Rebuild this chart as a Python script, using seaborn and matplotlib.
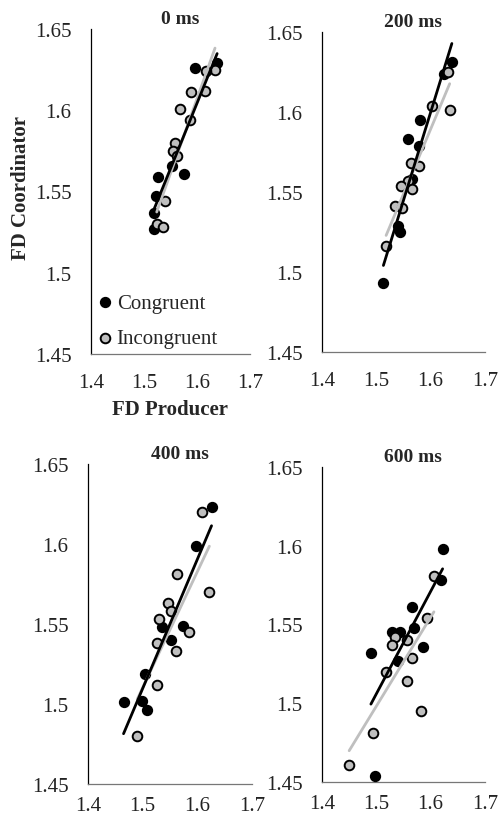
import numpy as np
import pandas as pd
import matplotlib
matplotlib.use("Agg")
import matplotlib.pyplot as plt
import seaborn as sns

# dữ liệu (FD Producer, FD Coordinator)
panel_titles = ["0 ms", "200 ms", "400 ms", "600 ms"]

cong_x_0 = [1.596, 1.638, 1.552, 1.576, 1.527, 1.523, 1.519, 1.518]
cong_y_0 = [1.626, 1.629, 1.566, 1.561, 1.559, 1.547, 1.537, 1.527]
incong_x_0 = [1.634, 1.617, 1.589, 1.615, 1.567, 1.587, 1.558, 1.555, 1.563, 1.540, 1.524, 1.536]
incong_y_0 = [1.625, 1.624, 1.611, 1.612, 1.601, 1.594, 1.580, 1.575, 1.572, 1.544, 1.530, 1.528]

cong_x_200 = [1.639, 1.625, 1.580, 1.559, 1.579, 1.566, 1.540, 1.543, 1.513]
cong_y_200 = [1.631, 1.624, 1.595, 1.583, 1.579, 1.558, 1.529, 1.525, 1.493]
incong_x_200 = [1.631, 1.603, 1.635, 1.564, 1.578, 1.559, 1.545, 1.566, 1.534, 1.548, 1.518]
incong_y_200 = [1.625, 1.604, 1.601, 1.568, 1.566, 1.557, 1.554, 1.552, 1.541, 1.540, 1.516]

cong_x_400 = [1.626, 1.597, 1.535, 1.574, 1.551, 1.504, 1.465, 1.499, 1.508]
cong_y_400 = [1.623, 1.599, 1.548, 1.549, 1.540, 1.519, 1.501, 1.502, 1.496]
incong_x_400 = [1.608, 1.562, 1.622, 1.547, 1.551, 1.529, 1.585, 1.527, 1.561, 1.526, 1.490]
incong_y_400 = [1.620, 1.581, 1.570, 1.563, 1.558, 1.553, 1.545, 1.538, 1.533, 1.512, 1.480]

cong_x_600 = [1.622, 1.619, 1.565, 1.569, 1.528, 1.544, 1.585, 1.490, 1.540, 1.498]
cong_y_600 = [1.598, 1.578, 1.561, 1.548, 1.545, 1.545, 1.536, 1.532, 1.527, 1.454]
incong_x_600 = [1.606, 1.594, 1.534, 1.528, 1.557, 1.565, 1.518, 1.557, 1.583, 1.494, 1.450]
incong_y_600 = [1.581, 1.554, 1.542, 1.537, 1.540, 1.529, 1.520, 1.514, 1.495, 1.481, 1.461]

x_ticks = [1.4, 1.5, 1.6, 1.7]
y_ticks = [1.45, 1.5, 1.55, 1.6, 1.65]
y_tick_labels = ["1.45", "1.5", "1.55", "1.6", "1.65"]

series = [
    (cong_x_0, cong_y_0, incong_x_0, incong_y_0),
    (cong_x_200, cong_y_200, incong_x_200, incong_y_200),
    (cong_x_400, cong_y_400, incong_x_400, incong_y_400),
    (cong_x_600, cong_y_600, incong_x_600, incong_y_600),
]

sns.set_style("white")
plt.rcParams['font.family'] = ['Liberation Serif', 'DejaVu Serif']

W, H = 501, 820
fig = plt.figure(figsize=(W / 100, H / 100), dpi=100)

# vị trí các ô (pixel): trái, trên, phải, dưới
boxes = [(91, 30, 250, 355), (322, 33, 485, 353), (88, 465, 252, 785), (322, 468, 485, 783)]

GRAY = '#bfbfbf'

for i, (cx, cy, ix, iy) in enumerate(series):
    l, t, r, b = boxes[i]
    ax = fig.add_axes([l / W, 1 - b / H, (r - l) / W, (b - t) / H])

    sns.scatterplot(x=cx, y=cy, ax=ax, color='black', edgecolor='black',
                    s=48, linewidth=1.2, label='Congruent', zorder=3)
    sns.scatterplot(x=ix, y=iy, ax=ax, color=GRAY, edgecolor='black',
                    s=48, linewidth=1.4, label='Incongruent', zorder=4)
    sns.regplot(x=np.array(ix), y=np.array(iy), ax=ax, scatter=False, ci=None,
                line_kws=dict(color=GRAY, lw=2.0, zorder=5))
    sns.regplot(x=np.array(cx), y=np.array(cy), ax=ax, scatter=False, ci=None,
                line_kws=dict(color='black', lw=2.0, zorder=6))

    ax.set_xlim(1.4, 1.7)
    ax.set_ylim(1.45, 1.65)
    ax.set_xticks(x_ticks)
    ax.set_xticklabels([str(v) for v in x_ticks])
    ax.set_yticks(y_ticks)
    ax.set_yticklabels(y_tick_labels)
    ax.tick_params(axis='both', length=0, labelsize=15, colors='#222222')
    ax.tick_params(axis='y', pad=14)
    # hàng dưới sát mép hình nên nhãn trục x gần trục hơn
    ax.tick_params(axis='x', pad=14 if i < 2 else 9)
    ax.set_xlabel('')
    ax.set_ylabel('')

    for s in ['top', 'right']:
        ax.spines[s].set_visible(False)
    ax.spines['left'].set_color('black')
    ax.spines['left'].set_linewidth(0.9)
    ax.spines['bottom'].set_color('#777777')
    ax.spines['bottom'].set_linewidth(0.9)

    ax.set_title(panel_titles[i], fontsize=14, fontweight='bold', x=0.56, pad=4)

    if i == 0:
        ax.legend(loc='lower left', bbox_to_anchor=(-0.015, -0.02), frameon=False,
                  fontsize=15, handletextpad=0.35, labelspacing=0.75,
                  borderaxespad=0.2, handlelength=0.4)
    else:
        ax.get_legend().remove()

fig.text(21 / W, 1 - 188 / H, 'FD Coordinator', rotation=90, ha='center', va='center',
         fontsize=15, fontweight='bold')
fig.text(170 / W, 1 - 410 / H, 'FD Producer', ha='center', va='center',
         fontsize=15, fontweight='bold')

fig.savefig('out.png', dpi=100)
